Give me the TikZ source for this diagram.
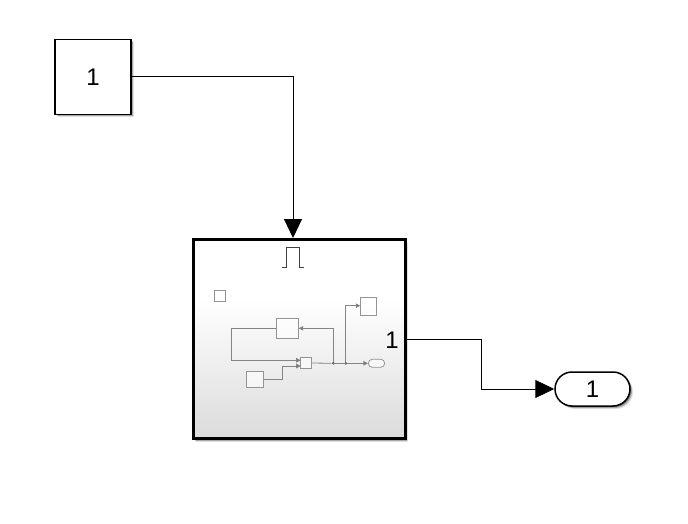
\documentclass[tikz,border=0pt]{standalone}
\usepackage{fontspec}
\setmainfont{Liberation Sans}
\usetikzlibrary{arrows.meta,shadows,shapes.misc}
\pgfdeclareverticalshading{panelfade}{100bp}{
  color(0bp)=(black!14); color(25bp)=(black!14); color(60bp)=(white); color(100bp)=(white)}
\tikzset{
  softshadow/.style={
    general shadow={shadow xshift=1pt,shadow yshift=-1pt,fill=black,opacity=.35},
    general shadow={shadow xshift=2pt,shadow yshift=-2pt,fill=black,opacity=.25},
    general shadow={shadow xshift=3pt,shadow yshift=-3pt,fill=black,opacity=.12}},
  blockbox/.style={draw=black,line width=1.5pt,fill=white,inner sep=0pt,softshadow,font=\fontsize{24}{24}\selectfont},
  panel/.style={draw=black,line width=3pt,shading=panelfade,inner sep=0pt,minimum width=212pt,minimum height=199pt,softshadow},
  portpill/.style={rounded rectangle,draw=black,line width=1.5pt,fill=white,inner sep=0pt,minimum width=75pt,minimum height=34pt,softshadow,font=\fontsize{24}{24}\selectfont},
  wire/.style={draw=black,line width=1pt},
  bigtip/.style={-{Triangle[length=19pt,width=18pt,fill=black]}},
  miniblock/.style={draw=black!42,line width=.8pt,fill=white,fill opacity=.6,inner sep=0pt},
  miniwire/.style={draw=black!48,line width=.8pt},
  minitip/.style={-{Triangle[length=4.5pt,width=4.5pt,fill=black!55]}},
  minidot/.style={circle,fill=black!60,inner sep=0pt,minimum size=3pt},
  portnum/.style={inner sep=0pt,font=\fontsize{24}{24}\selectfont}
}
\begin{document}
\begin{tikzpicture}[x=1pt,y=-1pt]
\useasboundingbox (0,0) rectangle (688,524);
\node[blockbox,minimum width=76pt,minimum height=75pt] (src) at (93,77) {1};
\node[panel] (main) at (299,339) {};
\node[portpill] (dst) at (592.5,389) {1};
\coordinate (mainin) at (293,238);
\coordinate (turn) at (481,389);
\draw[wire,bigtip] (src.east) -| (mainin);
\draw[wire,bigtip] (main.east) -| (turn) -- (dst.west);
% pulse icon
\draw[black!75,line width=1.2pt] (281.7,267.4) -- (286.7,267.4) -- (286.7,247.6) -- (299.3,247.6) -- (299.3,267.4) -- (304.3,267.4);
\node[portnum] (mainport) at (392,340) {1};
% thumbnail contents
\node[miniblock,minimum width=11pt,minimum height=11pt] (mfree) at (220.2,295.5) {};
\node[miniblock,minimum width=16.5pt,minimum height=17.5pt] (mtop) at (368.5,306.5) {};
\node[miniblock,minimum width=22.4pt,minimum height=19.7pt] (mmid) at (287.5,328.2) {};
\node[miniblock,minimum width=11pt,minimum height=11.4pt] (msum) at (306.2,363) {};
\node[miniblock,minimum width=17pt,minimum height=16pt] (mlow) at (255.2,379.3) {};
\node[miniblock,rounded rectangle,minimum width=16.4pt,minimum height=8pt] (mout) at (376.5,363.3) {};
\node[minidot] (j1) at (333.3,363.3) {};
\node[minidot] (j2) at (345.7,363.3) {};
\coordinate (sumA) at (300.7,360.3);
\coordinate (sumB) at (300.7,366);
\coordinate (corner) at (231.3,360.3);
\coordinate (topin) at (360.3,305.7);
\coordinate (midin) at (298.7,328.3);
\coordinate (lowbend) at (282.3,379.3);
\draw[miniwire] (mmid.west) -| (corner);
\draw[miniwire,minitip] (corner) -- (sumA);
\draw[miniwire,minitip] (mlow.east) -- (lowbend) |- (sumB);
\draw[miniwire] (msum.east) -- (j1);
\draw[miniwire] (j1) -- (j2);
\draw[miniwire,minitip] (j2) -- (mout.west);
\draw[miniwire,minitip] (j1) |- (midin);
\draw[miniwire,minitip] (j2) |- (topin);
\end{tikzpicture}
\end{document}
